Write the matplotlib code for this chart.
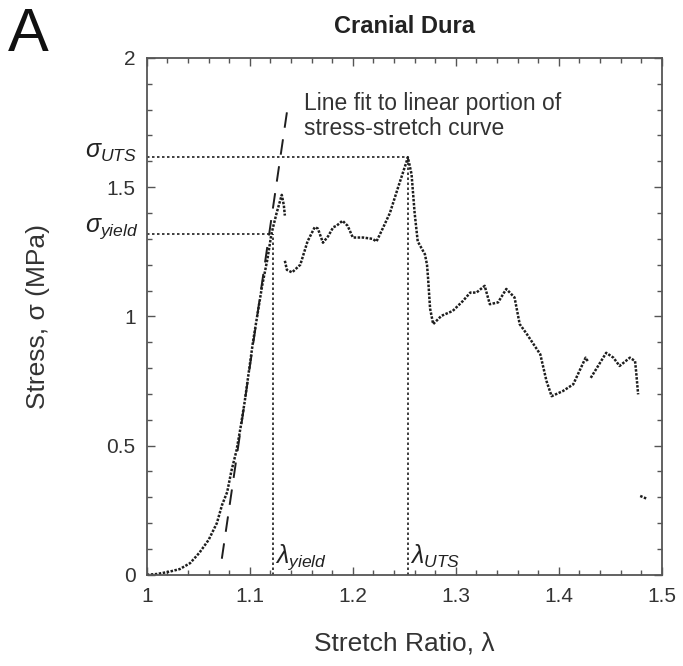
import numpy as np
import matplotlib
matplotlib.use('Agg')
import matplotlib.pyplot as plt

plt.rcParams['font.family'] = ['Liberation Sans', 'DejaVu Sans']
plt.rcParams['mathtext.fontset'] = 'custom'
plt.rcParams['mathtext.it'] = 'Liberation Sans:italic'
plt.rcParams['mathtext.rm'] = 'Liberation Sans'

# stress-stretch curve (nan = gap in the data)
stretch = [1.000, 1.010, 1.022, 1.032, 1.042, 1.051, 1.060, 1.068, 1.073, 1.078,
           1.082, 1.087, 1.091, 1.095, 1.103, 1.112, 1.117, 1.121, 1.126, 1.131,
           1.133, 1.134, np.nan,
           1.134, 1.136, 1.141, 1.149, 1.156, 1.163, 1.166, 1.171, 1.176, 1.181,
           1.184, 1.190, 1.195, 1.200, 1.210, 1.219, 1.223, 1.229, 1.236, 1.244,
           1.252, 1.2534, 1.257, 1.260, 1.263, 1.270, 1.272, 1.273, 1.274, 1.275,
           1.278, 1.286, 1.297, 1.307, 1.314, 1.320, 1.328, 1.333, 1.341, 1.349,
           1.357, 1.362, 1.369, 1.382, 1.388, 1.393, 1.404, 1.414, 1.426, 1.428,
           np.nan,
           1.431, 1.446, 1.453, 1.459, 1.469, 1.474, 1.475, 1.477, np.nan,
           1.479, 1.482, 1.485]
stress = [0.000, 0.003, 0.012, 0.022, 0.045, 0.085, 0.135, 0.20, 0.27, 0.32,
          0.40, 0.48, 0.57, 0.67, 0.90, 1.12, 1.22, 1.32, 1.40, 1.47,
          1.43, 1.39, np.nan,
          1.215, 1.18, 1.17, 1.20, 1.29, 1.345, 1.34, 1.285, 1.31, 1.345,
          1.35, 1.37, 1.35, 1.305, 1.305, 1.30, 1.29, 1.34, 1.40, 1.50,
          1.597, 1.616, 1.55, 1.40, 1.29, 1.24, 1.20, 1.15, 1.09, 1.03,
          0.97, 1.002, 1.021, 1.060, 1.092, 1.092, 1.118, 1.047, 1.054, 1.106,
          1.073, 0.970, 0.931, 0.853, 0.750, 0.691, 0.711, 0.737, 0.840, 0.827,
          np.nan,
          0.762, 0.859, 0.840, 0.808, 0.840, 0.827, 0.788, 0.698, np.nan,
          0.305, 0.300, 0.295]

# linear fit line
fit_x = [1.0728, 1.136]
fit_y = [0.062, 1.79]

# yield and ultimate points
yield_pt = (1.1223, 1.32)
uts_pt = (1.2534, 1.616)

x_ticks = [1, 1.1, 1.2, 1.3, 1.4, 1.5]
x_ticklabels = ['1', '1.1', '1.2', '1.3', '1.4', '1.5']
y_ticks = [0, 0.5, 1, 1.5, 2]
y_ticklabels = ['0', '0.5', '1', '1.5', '2']

fig = plt.figure(figsize=(6.83, 6.66), dpi=100)
ax = fig.add_axes([0.215, 0.137, 0.754, 0.776])

ink = '#1e1e1e'
ax.plot(stretch, stress, color=ink, lw=1.8, linestyle=(0, (1, 0.6)))
ax.plot(fit_x, fit_y, color=ink, lw=1.4, linestyle=(0, (8, 6)))

dot = (0, (1.5, 1.5))
for lam, sig in [yield_pt, uts_pt]:
    ax.plot([1.0, lam], [sig, sig], color=ink, lw=1.2, linestyle=dot)
    ax.plot([lam, lam], [0, sig], color=ink, lw=1.2, linestyle=dot)

ax.set_xlim(1, 1.5)
ax.set_ylim(0, 2)
ax.set_xticks(x_ticks)
ax.set_xticklabels(x_ticklabels)
ax.set_yticks(y_ticks)
ax.set_yticklabels(y_ticklabels)
ax.set_xticks(np.arange(1, 1.5001, 0.02), minor=True)
ax.set_yticks(np.arange(0, 2.001, 0.1), minor=True)
ax.tick_params(which='both', direction='in', top=True, right=True, colors='#555555',
               labelcolor='#333333', width=1)
ax.tick_params(which='major', length=6, labelsize=15)
ax.tick_params(axis='x', which='major', pad=9)
ax.tick_params(axis='y', which='major', pad=8)
ax.tick_params(which='minor', length=3.5)
for s in ax.spines.values():
    s.set_color('#555555')
    s.set_linewidth(1.3)

ax.set_xlabel('Stretch Ratio, λ', fontsize=19, color='#333333', labelpad=18)
ax.set_ylabel('Stress, σ (MPa)', fontsize=19, color='#333333', va='center')
ax.yaxis.set_label_coords(-0.212, 0.5)
ax.set_title('Cranial Dura', fontsize=17, fontweight='bold', color='#222222', pad=18)
fig.text(0.012, 0.99, 'A', fontsize=44, va='top', ha='left', color='#111111')

# annotations
ax.text(1.153, 1.775, 'Line fit to linear portion of\nstress-stretch curve', fontsize=16.5,
        color='#333333', va='center', ha='left', linespacing=1.15)
ax.text(0.94, uts_pt[1] + 0.02, r'$\sigma_{UTS}$', fontsize=18, color='#222222',
        va='center', ha='left')
ax.text(0.94, yield_pt[1] + 0.02, r'$\sigma_{yield}$', fontsize=18, color='#222222',
        va='center', ha='left')
ax.text(yield_pt[0] + 0.002, 0.07, r'$\lambda_{yield}$', fontsize=18, color='#222222',
        va='center', ha='left')
ax.text(uts_pt[0] + 0.002, 0.07, r'$\lambda_{UTS}$', fontsize=18, color='#222222',
        va='center', ha='left')

fig.savefig('out.png', dpi=100)
